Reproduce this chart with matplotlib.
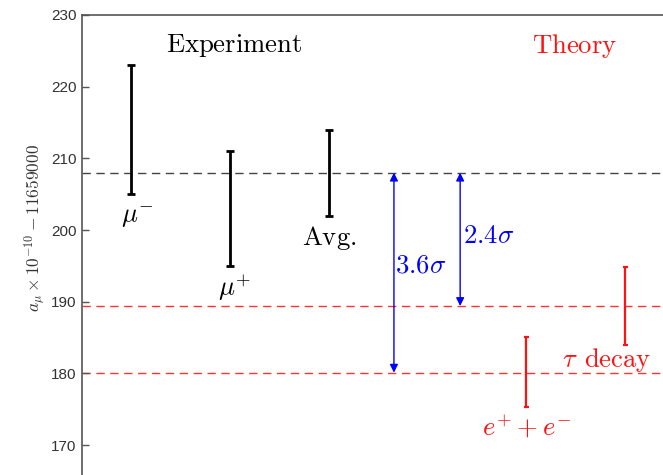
import matplotlib
matplotlib.use("Agg")
import matplotlib.pyplot as plt

plt.rcParams["mathtext.fontset"] = "cm"
plt.rcParams["font.family"] = ["Liberation Sans", "DejaVu Sans"]

# Experimental values (a_mu x 1e10 - 11659000)
exp_labels = [r"$\mu^{-}$", r"$\mu^{+}$", r"$\mathrm{Avg.}$"]
exp_x = [1, 2, 3]
exp_val = [214.0, 203.0, 208.0]
exp_err = [9.0, 8.0, 6.0]

# Theory predictions
th_labels = [r"$e^{+}+e^{-}$", r"$\tau\;\,\mathrm{decay}$"]
th_x = [5, 6]
th_val = [180.2, 189.4]
th_err = [4.9, 5.4]

# Reference lines and tension arrows
exp_avg = 208.0
th_lines = [180.1, 189.4]
sigma_x = [3.66, 4.33]
sigma_to = [180.1, 189.4]
sigma_labels = [r"$3.6\sigma$", r"$2.4\sigma$"]

yticks = [170, 180, 190, 200, 210, 220, 230]

W, H = 663, 475
fig = plt.figure(figsize=(W / 100, H / 100), dpi=100)
left_px, top_px = 82, 15
ax = fig.add_axes([left_px / W, 0.0, 1.0 - left_px / W + 0.01, 1 - top_px / H])

ax.set_xlim(0.503, 6.45)
ax.set_ylim(165.82, 230)

spine_col = "#555555"
for s in ["right", "bottom"]:
    ax.spines[s].set_visible(False)
for s in ["left", "top"]:
    ax.spines[s].set_color(spine_col)
    ax.spines[s].set_linewidth(1.2)

ax.set_xticks([])
ax.set_yticks(yticks)
ax.tick_params(axis="y", direction="in", length=5, width=1, color=spine_col,
               labelsize=11, labelcolor="#333333", pad=4)

# dashed reference lines
ax.axhline(exp_avg, color="#444444", lw=1.0, ls=(0, (6, 4)), zorder=1)
for yv in th_lines:
    ax.axhline(yv, color="#ff3333", lw=1.0, ls=(0, (6, 4)), zorder=1)

# error bars
ax.errorbar(exp_x, exp_val, yerr=exp_err, fmt="none", ecolor="black",
            elinewidth=2.0, capsize=2.6, capthick=2.0, zorder=3)
ax.errorbar(th_x, th_val, yerr=th_err, fmt="none", ecolor="#ff1111",
            elinewidth=1.6, capsize=1.8, capthick=1.6, zorder=3)

# tension arrows
for xv, yv in zip(sigma_x, sigma_to):
    ax.annotate("", xy=(xv, yv), xytext=(xv, exp_avg),
                arrowprops=dict(arrowstyle="<|-|>", color="#0000ff", lw=1.0,
                                mutation_scale=12, shrinkA=0, shrinkB=0))

txt_kw = dict(fontsize=19.2, ha="center", va="center")
ax.text(1.06, 201.8, exp_labels[0], **txt_kw)
ax.text(2.05, 191.9, exp_labels[1], **txt_kw)
ax.text(3.01, 198.9, exp_labels[2], **txt_kw)
ax.text(2.04, 225.8, r"$\mathrm{Experiment}$", **txt_kw)

ax.text(3.93, 195.1, sigma_labels[0], color="#0000ff", **txt_kw)
ax.text(4.62, 199.2, sigma_labels[1], color="#0000ff", **txt_kw)

ax.text(5.0, 172.4, th_labels[0], color="#ff1111", **txt_kw)
ax.text(5.81, 181.9, th_labels[1], color="#ff1111", **txt_kw)
ax.text(5.49, 225.7, r"$\mathrm{Theory}$", color="#ff1111", **txt_kw)

fig.text(35 / W, 1 - 228 / H, r"$a_{\mu}\times10^{-10}-11659000$",
         rotation=90, fontsize=12.5, ha="center", va="center", color="#333333")

fig.savefig("out.png", dpi=100)
